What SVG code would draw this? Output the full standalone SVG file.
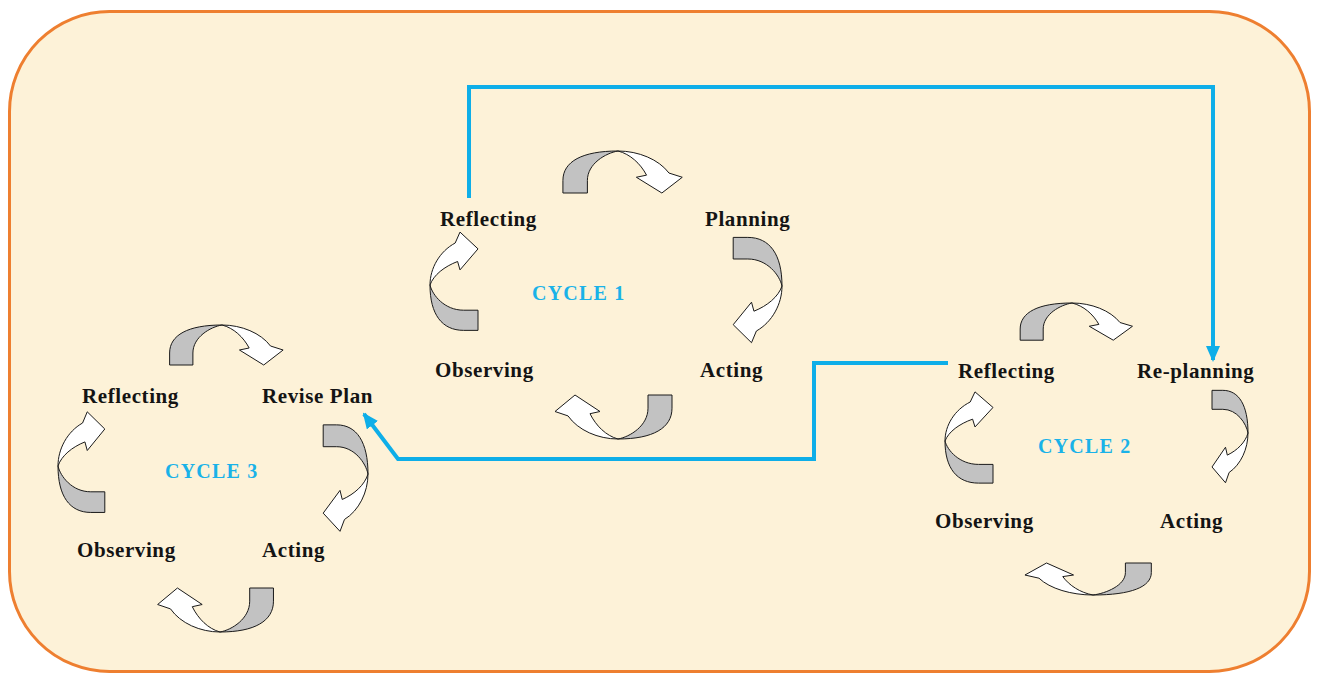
<svg xmlns="http://www.w3.org/2000/svg" xmlns:xlink="http://www.w3.org/1999/xlink" width="1319" height="675" viewBox="0 0 1319 675">
<style>
.lbl{font-family:"Liberation Serif","Times New Roman",serif;font-weight:bold;font-size:21px;fill:#141414;letter-spacing:0.6px}
.cyc{font-family:"Liberation Serif","Times New Roman",serif;font-weight:bold;font-size:20px;fill:#1ab2e8;letter-spacing:1.2px}
.conn{fill:none;stroke:#0eaee8;stroke-width:4;stroke-linejoin:miter}
.g{fill:#c2c2c2;stroke:#1a1a1a;stroke-width:1}
.w{fill:#ffffff;stroke:#1a1a1a;stroke-width:1}
</style>
<defs>
<g id="carrow">
<path class="g" vector-effect="non-scaling-stroke" d="M -54,40 L -54,28 C -54,10 -35,0 0,0 C -12,2 -30,12 -30,28 L -30,40 Z"/>
<path class="w" vector-effect="non-scaling-stroke" d="M 0,0 C 20,0 40,8 50,21 L 63,25 L 43,40 L 18,25 L 28,23 C 22,12 12,3 0,0 Z"/>
</g>
<marker id="ah" markerUnits="userSpaceOnUse" markerWidth="16" markerHeight="14" refX="14" refY="7" orient="auto">
<path d="M0,0 L16,7 L0,14 Z" fill="#0eaee8"/>
</marker>
</defs>
<rect x="0" y="0" width="1319" height="675" fill="#ffffff"/>
<rect id="frame" x="9.5" y="11.5" width="1300" height="660" rx="100" ry="100" fill="#fdf2d8" stroke="#ee7f30" stroke-width="3"/>

<g id="connectors">
<polyline class="conn" points="469,198 469,87 1213,87 1213,360" marker-end="url(#ah)"/>
<polyline class="conn" points="948,363 814,363 814,459 398,459 364,414" marker-end="url(#ah)"/>
<g id="cycle1-arrows">
<use xlink:href="#carrow" transform="translate(618,151) scale(1.02,1.05)"/>
<use xlink:href="#carrow" transform="translate(782,286) rotate(90) scale(0.9,1.22)"/>
<use xlink:href="#carrow" transform="translate(618,439) rotate(180) scale(1,1.1)"/>
<use xlink:href="#carrow" transform="translate(430,285) rotate(-90) scale(0.84,1.2)"/>
</g>
<g id="cycle2-arrows">
<use xlink:href="#carrow" transform="translate(1072,303) scale(0.96,0.93)"/>
<use xlink:href="#carrow" transform="translate(1248,433) rotate(90) scale(0.79,0.9)"/>
<use xlink:href="#carrow" transform="translate(1093,595) rotate(180) scale(1.08,0.8)"/>
<use xlink:href="#carrow" transform="translate(945,441) rotate(-90) scale(0.78,1.2)"/>
</g>
<g id="cycle3-arrows">
<use xlink:href="#carrow" transform="translate(222,325) scale(0.97,1)"/>
<use xlink:href="#carrow" transform="translate(368,474) rotate(90) scale(0.91,1.12)"/>
<use xlink:href="#carrow" transform="translate(220,632) rotate(180) scale(0.99,1.1)"/>
<use xlink:href="#carrow" transform="translate(58,466) rotate(-90) scale(0.86,1.17)"/>
</g>
</g>

<g id="c1-reflecting"><text class="lbl" x="440" y="226">Reflecting</text></g>
<g id="c1-planning"><text class="lbl" x="705" y="226">Planning</text></g>
<g id="c1-title"><text class="cyc" x="532" y="300">CYCLE 1</text></g>
<g id="c1-observing"><text class="lbl" x="435" y="377">Observing</text></g>
<g id="c1-acting"><text class="lbl" x="700" y="377">Acting</text></g>

<g id="c2-reflecting"><text class="lbl" x="958" y="378">Reflecting</text></g>
<g id="c2-replanning"><text class="lbl" x="1137" y="378">Re-planning</text></g>
<g id="c2-title"><text class="cyc" x="1038" y="453">CYCLE 2</text></g>
<g id="c2-observing"><text class="lbl" x="935" y="528">Observing</text></g>
<g id="c2-acting"><text class="lbl" x="1160" y="528">Acting</text></g>

<g id="c3-reflecting"><text class="lbl" x="82" y="403">Reflecting</text></g>
<g id="c3-reviseplan"><text class="lbl" x="262" y="403">Revise Plan</text></g>
<g id="c3-title"><text class="cyc" x="165" y="478">CYCLE 3</text></g>
<g id="c3-observing"><text class="lbl" x="77" y="557">Observing</text></g>
<g id="c3-acting"><text class="lbl" x="262" y="557">Acting</text></g>
</svg>
